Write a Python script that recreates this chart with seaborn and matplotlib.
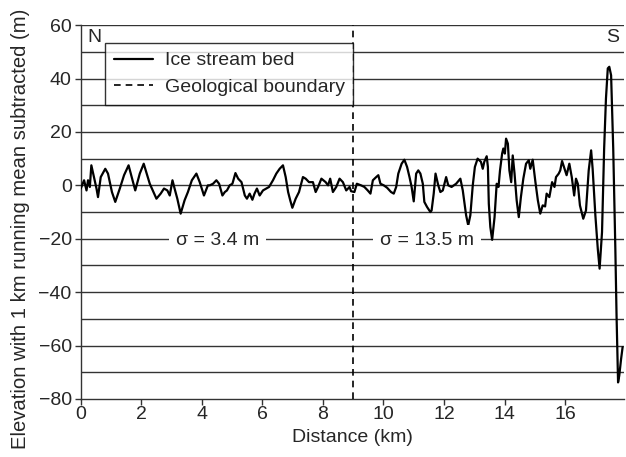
import matplotlib
matplotlib.use("Agg")
import matplotlib.pyplot as plt
import seaborn as sns
import pandas as pd
import numpy as np

distance_km = [
    0.00, 0.11, 0.19, 0.24, 0.30, 0.35, 0.52, 0.57, 0.66, 0.81, 0.90, 1.03, 1.14, 1.29, 1.43, 1.58,
    1.80, 1.95, 2.08, 2.28, 2.50, 2.64, 2.75, 2.86, 2.94, 3.03, 3.10, 3.19, 3.30, 3.43, 3.54, 3.67,
    3.82, 3.93, 4.07, 4.20, 4.26, 4.37, 4.48, 4.57, 4.68, 4.76, 4.83, 4.92, 5.01, 5.11, 5.20, 5.31,
    5.42, 5.49, 5.58, 5.67, 5.74, 5.82, 5.91, 6.02, 6.13, 6.22, 6.35, 6.46, 6.57, 6.68, 6.77, 6.85,
    6.92, 6.99, 7.10, 7.21, 7.34, 7.43, 7.54, 7.67, 7.76, 7.84, 7.95, 8.09, 8.17, 8.24, 8.33, 8.44,
    8.55, 8.66, 8.77, 8.88, 8.93, 9.04, 9.12, 9.26, 9.37, 9.48, 9.57, 9.65, 9.76, 9.83, 9.90, 10.01,
    10.12, 10.25, 10.34, 10.42, 10.49, 10.60, 10.69, 10.78, 10.86, 10.93, 11.00, 11.08, 11.15, 11.22,
    11.30, 11.35, 11.44, 11.55, 11.59, 11.66, 11.72, 11.81, 11.88, 11.96, 12.07, 12.14, 12.25, 12.40,
    12.54, 12.62, 12.73, 12.80, 12.87, 12.95, 13.02, 13.11, 13.22, 13.28, 13.33, 13.41, 13.45, 13.48,
    13.53, 13.59, 13.67, 13.74, 13.80, 13.85, 13.92, 13.96, 14.01, 14.05, 14.11, 14.16, 14.22, 14.27,
    14.33, 14.40, 14.47, 14.54, 14.62, 14.71, 14.80, 14.85, 14.93, 15.02, 15.10, 15.18, 15.26, 15.34,
    15.39, 15.48, 15.57, 15.65, 15.70, 15.79, 15.84, 15.90, 15.98, 16.05, 16.14, 16.22, 16.30, 16.36,
    16.42, 16.49, 16.60, 16.69, 16.78, 16.86, 16.91, 17.00, 17.08, 17.14, 17.22, 17.29, 17.35, 17.41,
    17.46, 17.52, 17.59, 17.66, 17.70, 17.75, 17.79, 17.85, 17.90,
]
elevation_m = [
    -1.2, 1.9, -1.9, 1.9, -0.6, 7.5, -1.2, -4.4, 3.1, 6.2, 4.4, -2.5, -6.2, -1.2, 3.8, 7.5,
    -1.9, 4.4, 8.1, 0.6, -5.0, -3.1, -1.2, -1.9, -3.8, 1.9, -1.2, -5.0, -10.6, -5.6, -2.5, 1.9,
    4.4, 1.2, -3.8, 0.0, 0.0, 0.6, 1.9, 0.6, -3.8, -2.5, -1.9, 0.0, 0.6, 4.6, 2.5, 1.2,
    -3.8, -5.0, -3.1, -5.4, -3.1, -1.2, -3.8, -1.9, -1.2, -0.6, 1.9, 4.4, 6.2, 7.5, 3.1, -2.5,
    -5.6, -8.4, -5.0, -2.5, 3.1, 2.5, 1.2, 1.2, -2.5, -0.6, 2.5, 1.2, 0.0, 2.5, -2.5, -0.6,
    2.5, 1.2, -1.9, -0.6, -2.2, -2.5, 0.6, 0.0, -0.6, -1.9, -3.1, 1.9, 3.1, 3.8, 0.6, 0.0,
    -0.9, -2.5, -3.1, -0.6, 4.4, 8.1, 9.6, 6.9, 3.1, -0.6, -6.0, 4.4, 5.6, 4.4,
    0.6, -6.2, -8.1, -10.0, -9.4, -3.1, 4.4, 0.0, -2.5, -1.9, 3.1, 0.0, -0.6, 0.6,
    2.5, -1.9, -11.2, -15.0, -11.2, 0.0, 6.9, 10.0, 8.8, 6.2, 8.8, 10.9, 6.9, -6.9,
    -15.6, -20.4, -11.9, 0.6, -0.6, 5.6, 11.9, 13.8, 11.9, 17.5, 15.6, 5.6, 1.2, 11.2,
    4.4, -5.6, -11.9, -4.4, 2.5, 8.1, 9.4, 6.2, 9.6, 1.2, -5.6, -10.6, -7.5, -7.9,
    -3.1, -4.4, 1.2, -0.6, 3.1, 4.4, 5.6, 9.1, 6.2, 3.8, 8.1, 3.1, -3.8, 2.5,
    0.6, -7.5, -12.5, -9.4, 5.6, 13.1, 6.2, -11.2, -23.8, -31.2, -17.5, 13.8, 32.5, 43.8,
    44.4, 41.2, 13.8, -23.8, -48.8, -73.8, -71.2, -65.0, -60.6,
]
boundary_km = 9.0
sigma_labels = ["σ = 3.4 m", "σ = 13.5 m"]
sigma_x = [4.52, 11.45]

df = pd.DataFrame({"Distance (km)": distance_km, "Elevation": elevation_m})

sns.set_theme(style="white")
plt.rcParams["font.family"] = ["Liberation Sans", "DejaVu Sans"]

FS = 14

fig = plt.figure(figsize=(6.26, 4.57), dpi=100)
ax = fig.add_axes([0.129, 0.127, 0.868, 0.818])

# horizontal gridlines every 10
for yv in range(-70, 61, 10):
    ax.axhline(yv, color="#333333", lw=1.0, zorder=1)

sns.lineplot(data=df, x="Distance (km)", y="Elevation", ax=ax, color="black",
             lw=1.6, label="Ice stream bed", zorder=3, sort=False)
ax.axvline(boundary_km, color="black", lw=1.2, ls=(0, (4, 3)), zorder=3,
           label="Geological boundary")

for lab, xv in zip(sigma_labels, sigma_x):
    ax.text(xv, -20.8, lab, ha="center", va="center", fontsize=FS, zorder=4,
            bbox=dict(facecolor="white", edgecolor="none", pad=5))

ax.text(0.46, 55.5, "N", ha="center", va="center", fontsize=FS, zorder=4)
ax.text(17.56, 55.5, "S", ha="center", va="center", fontsize=FS, zorder=4)

ax.set_xlim(0, 17.95)
ax.set_ylim(-80, 60)
ax.set_xticks(range(0, 17, 2))
ax.set_yticks(range(-80, 61, 20))
ax.tick_params(axis="both", which="major", direction="out", length=4, width=1,
               color="#333333", labelsize=FS, bottom=True, left=True)
ax.tick_params(axis="x", pad=1)
ax.tick_params(axis="y", pad=2.5)
for s in ["top", "right"]:
    ax.spines[s].set_visible(False)
for s in ["left", "bottom"]:
    ax.spines[s].set_color("#333333")
    ax.spines[s].set_linewidth(1.0)

ax.set_xlabel("Distance (km)", fontsize=FS)
ax.set_ylabel("Elevation with 1 km running mean subtracted (m)", fontsize=14.6)
ax.xaxis.set_label_coords(0.5, -0.102)
ax.yaxis.set_label_coords(-0.110, 0.455)
ax.yaxis.label.set_va("center")
ax.xaxis.label.set_va("center")

leg = ax.legend(loc="upper left", bbox_to_anchor=(0.045, 0.952), fontsize=FS,
                frameon=True, fancybox=False, handlelength=2.0, borderpad=0.45,
                labelspacing=0.45, handletextpad=0.6, borderaxespad=0)
leg.get_frame().set_edgecolor("black")
leg.get_frame().set_linewidth(1.0)
leg.set_zorder(5)

fig.savefig("out.png", dpi=100)
